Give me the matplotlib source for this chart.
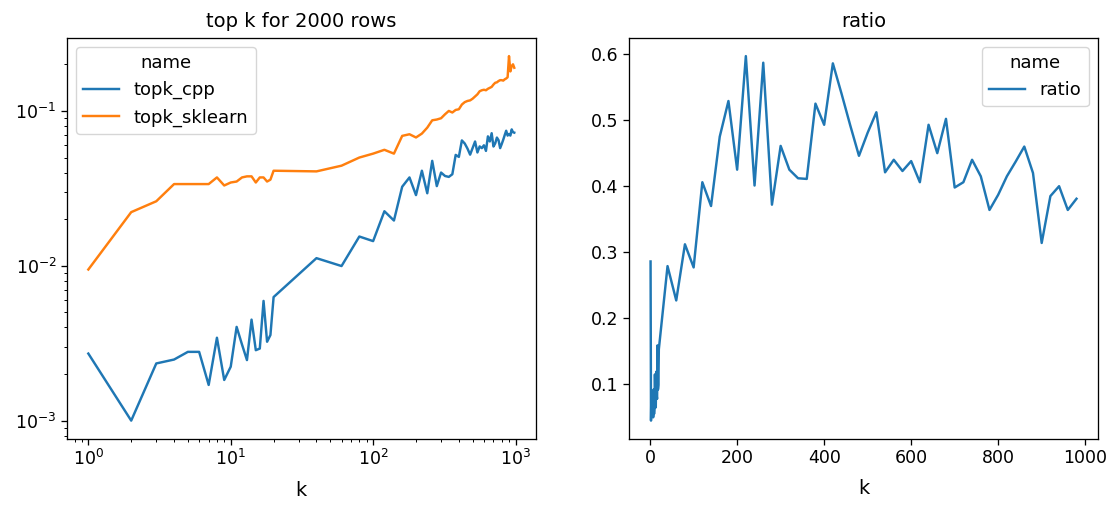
# top k timings: cpp vs sklearn, and their ratio
import matplotlib
matplotlib.use("Agg")
import matplotlib.pyplot as plt

# k values: 1..19, then 20..980 step 20
k = [1, 2, 3, 4, 5, 6, 7, 8, 9, 10, 11, 12, 13, 14, 15, 16, 17, 18, 19,
     20, 40, 60, 80, 100, 120, 140, 160, 180, 200, 220, 240, 260, 280, 300,
     320, 340, 360, 380, 400, 420, 440, 460, 480, 500, 520, 540, 560, 580,
     600, 620, 640, 660, 680, 700, 720, 740, 760, 780, 800, 820, 840, 860,
     880, 900, 920, 940, 960, 980]

topk_cpp = [0.00271, 0.00100, 0.00234, 0.00248, 0.00278, 0.00278, 0.00170,
            0.00343, 0.00183, 0.00223, 0.00403, 0.00310, 0.00246, 0.00449,
            0.00285, 0.00292, 0.00593, 0.00323, 0.00357,
            0.00628, 0.0112, 0.00996, 0.01545, 0.01443, 0.0225, 0.0196,
            0.0324, 0.0372, 0.0286, 0.0411, 0.0294, 0.0476, 0.0327, 0.0400,
            0.0380, 0.0375, 0.0390, 0.0520, 0.0505, 0.0645, 0.0616, 0.0571,
            0.0522, 0.0577, 0.0635, 0.0539, 0.0590, 0.0575, 0.0600, 0.0552,
            0.0685, 0.0635, 0.0718, 0.0589, 0.0617, 0.0673, 0.0647, 0.0575,
            0.0611, 0.0652, 0.0699, 0.0745, 0.0693, 0.0710, 0.0693, 0.0760,
            0.0728, 0.0724]

topk_sklearn = [0.00946, 0.0222, 0.0261, 0.0337, 0.0337, 0.0337, 0.0337,
                0.0372, 0.0330, 0.0345, 0.0350, 0.0372, 0.0378, 0.0378,
                0.0345, 0.0372, 0.0372, 0.0350, 0.0360,
                0.0411, 0.0407, 0.0443, 0.0500, 0.0530, 0.0561, 0.0530,
                0.0690, 0.0707, 0.0674, 0.0714, 0.0780, 0.0870, 0.0880,
                0.0897, 0.0952, 0.1000, 0.0977, 0.1015, 0.1025, 0.110, 0.114,
                0.116, 0.117, 0.120, 0.124, 0.128, 0.134, 0.136, 0.137, 0.136,
                0.139, 0.141, 0.143, 0.148, 0.152, 0.153, 0.156, 0.158, 0.158,
                0.157, 0.160, 0.162, 0.165, 0.226, 0.180, 0.195, 0.200, 0.190]

ratio = [0.286, 0.045, 0.090, 0.074, 0.083, 0.083, 0.050, 0.092, 0.055,
         0.065, 0.115, 0.083, 0.065, 0.119, 0.083, 0.078, 0.159, 0.092, 0.099,
         0.153, 0.279, 0.227, 0.312, 0.277, 0.406, 0.370, 0.475, 0.529, 0.425,
         0.597, 0.401, 0.587, 0.372, 0.461, 0.425, 0.412, 0.411, 0.525, 0.493,
         0.586, 0.540, 0.492, 0.446, 0.481, 0.512, 0.421, 0.440, 0.423, 0.438,
         0.406, 0.493, 0.450, 0.502, 0.398, 0.406, 0.440, 0.415, 0.364, 0.387,
         0.415, 0.437, 0.460, 0.420, 0.314, 0.385, 0.400, 0.364, 0.381]

# the original was rendered a bit larger than the default, scale things up
s = 1.17
plt.rcParams.update({
    'font.size': 12,
    'xtick.labelsize': 12.5, 'ytick.labelsize': 12.5,
    'axes.labelsize': 14,
    'axes.labelpad': 8,
    'lines.linewidth': 1.5 * s,
    'axes.linewidth': 0.8 * s,
    'xtick.major.size': 3.5 * s, 'ytick.major.size': 3.5 * s,
    'xtick.minor.size': 2 * s, 'ytick.minor.size': 2 * s,
    'xtick.major.width': 0.8 * s, 'ytick.major.width': 0.8 * s,
    'xtick.minor.width': 0.6 * s, 'ytick.minor.width': 0.6 * s,
    'legend.fontsize': 13, 'legend.title_fontsize': 13,
})

fig, (ax1, ax2) = plt.subplots(1, 2, figsize=(11.1, 5.05), dpi=100)
fig.subplots_adjust(left=0.0604, right=0.989, bottom=0.131, top=0.925, wspace=0.2)

ax1.plot(k, topk_cpp, color='#1f77b4', label='topk_cpp')
ax1.plot(k, topk_sklearn, color='#ff7f0e', label='topk_sklearn')
ax1.set_xscale('log')
ax1.set_yscale('log')
ax1.set_title('top k for 2000 rows', fontsize=14, pad=8)
ax1.set_xlabel('k')
ax1.legend(title='name', loc='upper left')

ax2.plot(k, ratio, color='#1f77b4', label='ratio')
ax2.set_title('ratio', fontsize=14, pad=8)
ax2.set_xlabel('k')
ax2.set_xticks([0, 200, 400, 600, 800, 1000])
ax2.legend(title='name', loc='upper right')

fig.savefig('out.png', dpi=100)
